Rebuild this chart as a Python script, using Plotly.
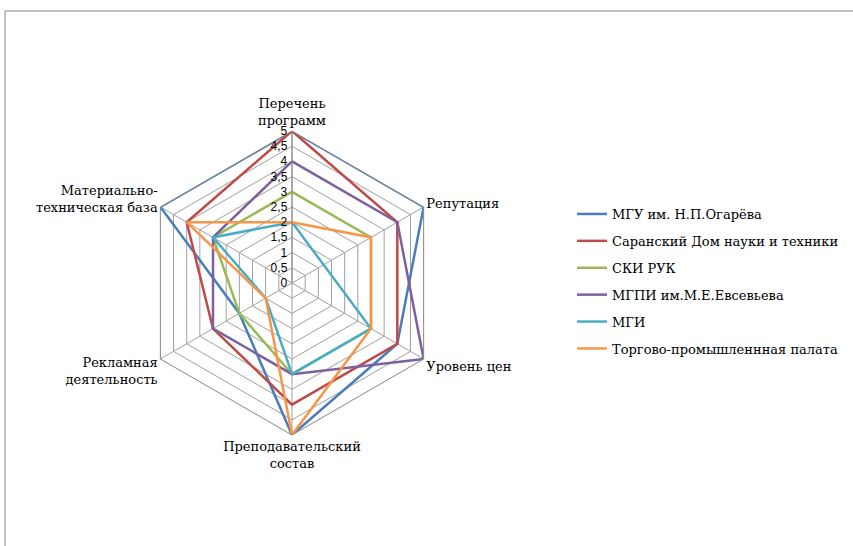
import plotly.graph_objects as go

categories = ["Перечень<br>программ", "Репутация", "Уровень цен",
              "Преподавательский<br>состав", "Рекламная<br>деятельность",
              "Материально-<br>техническая база"]

series_names = ["МГУ им. Н.П.Огарёва", "Саранский Дом науки и техники", "СКИ РУК",
                "МГПИ им.М.Е.Евсевьева", "МГИ", "Торгово-промышленнная палата"]

mgu = [5, 5, 4, 5, 2, 5]
sdnt = [5, 4, 4, 4, 3, 4]
ski = [3, 3, 3, 3, 2, 3]
mgpi = [4, 4, 5, 3, 3, 3]
mgi = [2, 1.2, 3, 3, 1, 3]
tpp = [2, 3, 3, 5, 1, 4]

colors = ["#4A7EBB", "#BE4B48", "#98B954", "#7D60A0", "#4BACC6", "#F79646"]

tick_vals = [0, 0.5, 1, 1.5, 2, 2.5, 3, 3.5, 4, 4.5, 5]
tick_text = ["0", "0,5", "1", "1,5", "2", "2,5", "3", "3,5", "4", "4,5", "5"]

SERIF = "DejaVu Serif"

fig = go.Figure()
for i, (name, vals) in enumerate(zip(series_names, [mgu, sdnt, ski, mgpi, mgi, tpp])):
    fig.add_trace(go.Scatterpolar(
        r=vals + [vals[0]],
        theta=categories + [categories[0]],
        mode="lines",
        name=name,
        legendgroup=str(i),
        line=dict(color=colors[i], width=2.5),
    ))

W, H = 853, 546
cx, cy, R = 292, 283, 152
fig.update_layout(
    width=W, height=H,
    margin=dict(l=0, r=0, t=0, b=0),
    paper_bgcolor="white",
    plot_bgcolor="white",
    font=dict(family=SERIF),
    polar=dict(
        domain=dict(x=[(cx - R) / W, (cx + R) / W], y=[(H - cy - R) / H, (H - cy + R) / H]),
        bgcolor="white",
        gridshape="linear",
        radialaxis=dict(
            range=[0, 5], tickvals=tick_vals, ticktext=tick_text,
            angle=90, tickangle=90, side="counterclockwise",
            showline=True, linecolor="#868686", linewidth=1,
            gridcolor="#A0A0A0", gridwidth=1, ticks="",
            tickfont=dict(family="Liberation Sans", size=12, color="#000000"),
        ),
        angularaxis=dict(
            direction="clockwise", rotation=90,
            linecolor="#868686", linewidth=1,
            gridcolor="#A0A0A0", gridwidth=1, ticks="",
            tickfont=dict(family=SERIF, size=13, color="#000000"),
        ),
    ),
    legend=dict(
        x=572 / W, y=1 - 199 / H, xanchor="left", yanchor="top",
        font=dict(family=SERIF, size=13, color="#000000"),
        tracegroupgap=7, itemwidth=30,
        bgcolor="rgba(0,0,0,0)",
    ),
    shapes=[dict(type="rect", xref="paper", yref="paper",
                 x0=5 / W, x1=1.2, y0=-0.2, y1=1 - 11 / H,
                 line=dict(color="#888888", width=1))],
)

fig.write_html("out.html", config={"displayModeBar": False},
               post_script="document.body.style.margin='0';")
